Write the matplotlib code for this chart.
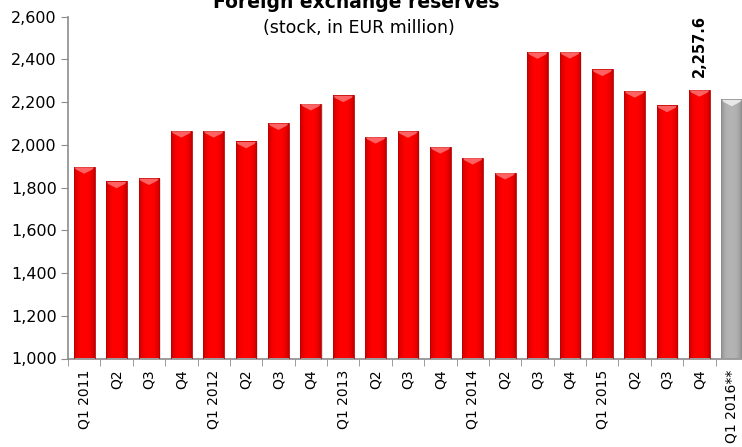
import matplotlib.pyplot as plt
from matplotlib.patches import Rectangle, Polygon
from matplotlib.colors import to_rgb
import numpy as np

quarters = ["Q1 2011", "Q2", "Q3", "Q4", "Q1 2012", "Q2", "Q3", "Q4",
            "Q1 2013", "Q2", "Q3", "Q4", "Q1 2014", "Q2", "Q3", "Q4",
            "Q1 2015", "Q2", "Q3", "Q4", "Q1 2016**"]
reserves = [1897, 1829, 1844, 2066, 2066, 2016, 2102, 2193,
            2232, 2038, 2065, 1991, 1940, 1870, 2435, 2436,
            2354, 2253, 2185, 2257.6, 2213]
projected = [False] * 20 + [True]
label_idx = 19

plt.rcParams['font.family'] = ['DejaVu Sans']

fig = plt.figure(figsize=(7.42, 4.47), dpi=100)
ax = fig.add_axes([68 / 742, 88.5 / 447, 680 / 742, 341.8 / 447])

ymin, ymax = 1000, 2600
w = 0.64


def shade(base, edge):
    # horizontal cylinder-like gradient, darker at the edges
    t = np.linspace(-1, 1, 64)
    k = np.abs(t) ** 3
    b = np.array(to_rgb(base))
    e = np.array(to_rgb(edge))
    row = b[None, :] * (1 - k[:, None]) + e[None, :] * k[:, None]
    return row[None, :, :]


for i, v in enumerate(reserves):
    x0, x1 = i - w / 2, i + w / 2
    if projected[i]:
        base, edge, cap = "#b4b4b4", "#8c8c8c", "#ffffff"
    else:
        base, edge, cap = "#ff0000", "#c00000", "#ff8c8c"
    # soft shadow
    ax.add_patch(Rectangle((x0 + 0.04, ymin), w, v - ymin - 4, facecolor="#000000",
                           alpha=0.12, edgecolor="none", zorder=1))
    r = Rectangle((x0, ymin), w, v - ymin, facecolor="none",
                  edgecolor=edge, linewidth=0.6, zorder=3)
    ax.add_patch(r)
    im = ax.imshow(shade(base, edge), extent=[x0, x1, ymin, v], aspect="auto",
                   zorder=2, interpolation="bilinear")
    im.set_clip_path(r)
    # bevelled top
    ax.add_patch(Polygon([(x0 + 0.02, v - 2), (x1 - 0.02, v - 2),
                          (x1 - 0.06, v - 12), (i, v - 32), (x0 + 0.06, v - 12)],
                         closed=True, facecolor=cap, edgecolor="none",
                         alpha=0.7, zorder=3))

ax.text(label_idx, reserves[label_idx] + 58, f"{reserves[label_idx]:,.1f}",
        rotation=90, ha="center", va="bottom", fontsize=10.5, fontweight="bold")

ax.set_xlim(-0.5, len(reserves) - 0.5)
ax.set_ylim(ymin, ymax)
ax.set_yticks(range(ymin, ymax + 1, 200))
ax.set_yticklabels([f"{t:,}" for t in range(ymin, ymax + 1, 200)], fontsize=11.5)

ax.set_xticks(range(len(quarters)))
ax.set_xticklabels(quarters, rotation=90, fontsize=10)
ax.set_xticks(np.arange(-0.5, len(quarters), 1), minor=True)
ax.tick_params(axis="x", which="major", length=0, pad=8)
ax.tick_params(axis="x", which="minor", length=5, color="#8c8c8c", direction="out")
ax.tick_params(axis="y", length=5, color="#8c8c8c", direction="out", pad=3)

for s in ["top", "right"]:
    ax.spines[s].set_visible(False)
for s in ["left", "bottom"]:
    ax.spines[s].set_color("#8c8c8c")
    ax.spines[s].set_linewidth(1.2)

fig.text(0.48, 1 - 8 / 447, "Foreign exchange reserves", ha="center", va="baseline",
         fontsize=13.5, fontweight="bold")
fig.text(0.483, 1 - 33 / 447, "(stock, in EUR million)", ha="center", va="baseline",
         fontsize=12.5)

fig.savefig("out.png", dpi=100)
